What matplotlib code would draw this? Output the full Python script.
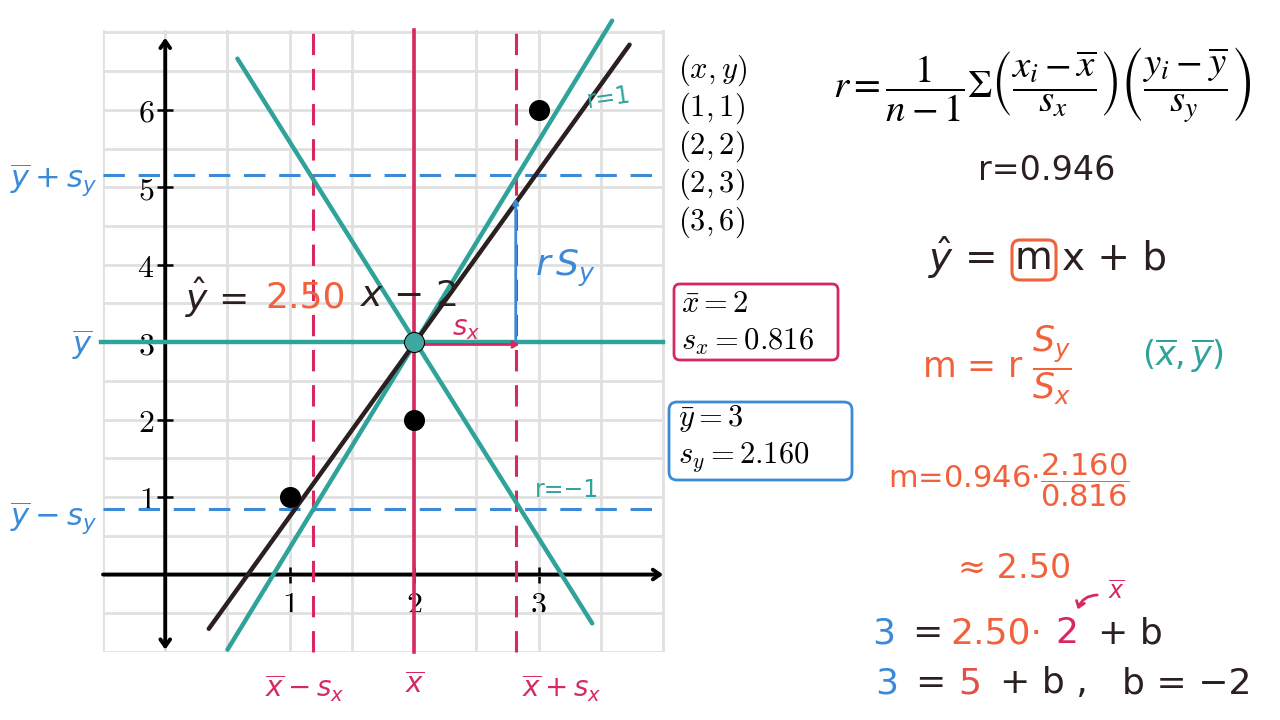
import matplotlib
matplotlib.use("Agg")
import matplotlib.pyplot as plt
from matplotlib.patches import FancyBboxPatch, FancyArrowPatch
from matplotlib.ticker import MultipleLocator, FuncFormatter

# data
pts_x = [1, 2, 2, 3]
pts_y = [1, 2, 3, 6]
x_mean, y_mean = 2, 3
s_x, s_y = 0.816, 2.160
r_val = 0.946
slope, intercept = 2.50, -2

# hand drawn lines, end points
r_pos_x = [0.50, 3.59]
r_pos_y = [-0.97, 7.15]
r_neg_x = [0.58, 3.43]
r_neg_y = [6.66, -0.63]
fit_x = [0.35, 3.73]
fit_y = [-0.70, 6.84]
rsy_top = 4.86

xticks = [1, 2, 3]
yticks = [1, 2, 3, 4, 5, 6]
table_rows = ['(x, y)', '(1, 1)', '(2, 2)', '(2, 3)', '(3, 6)']

TEAL = '#2fa39b'
PINK = '#d62a5e'
BLUE = '#3a8ad8'
ORANGE = '#f2613b'
DARK = '#2b1f1f'
GRID = '#e0e0e0'

plt.rcParams['mathtext.fontset'] = 'cm'

fig = plt.figure(figsize=(12.8, 7.2), dpi=100)
fig.patch.set_facecolor('white')
ax = fig.add_axes([103 / 1280, 68 / 720, 562 / 1280, 622 / 720])
ax.set_xlim(-0.5, 4.015)
ax.set_ylim(-1.0, 7.03)
for sp in ax.spines.values():
    sp.set_visible(False)

ax.xaxis.set_minor_locator(MultipleLocator(0.5))
ax.yaxis.set_minor_locator(MultipleLocator(0.5))
ax.grid(True, which='both', color=GRID, lw=2, zorder=0)
ax.set_axisbelow(True)
ax.spines['left'].set_position(('data', 0))
ax.spines['bottom'].set_position(('data', 0))
ax.set_xticks(xticks)
ax.set_yticks(yticks)
ax.xaxis.set_major_formatter(FuncFormatter(lambda v, p: f'${v:g}$'))
ax.yaxis.set_major_formatter(FuncFormatter(lambda v, p: f'${v:g}$'))
ax.tick_params(which='major', direction='inout', length=12, width=1.8,
               labelsize=23, color='black')
ax.tick_params(axis='x', pad=5)
ax.tick_params(axis='y', pad=2)
ax.tick_params(which='minor', length=0)

# axes with arrows
ax.annotate('', xy=(0, 6.93), xytext=(0, -0.97),
            arrowprops=dict(arrowstyle='<->,head_length=0.5,head_width=0.35',
                            lw=2.8, color='black', shrinkA=0, shrinkB=0),
            annotation_clip=False)
ax.annotate('', xy=(4.0, 0), xytext=(-0.5, 0),
            arrowprops=dict(arrowstyle='->,head_length=0.5,head_width=0.35',
                            lw=2.8, color='black', shrinkA=0, shrinkB=0),
            annotation_clip=False)

# mean and +/- sd guide lines
ax.plot([x_mean, x_mean], [-1.0, 7.03], color=PINK, lw=2.6, zorder=3, clip_on=False)
for xv in [x_mean - s_x, x_mean + s_x]:
    ax.plot([xv, xv], [-1.0, 7.08], color=PINK, lw=2.2, dashes=(7, 4.5),
            zorder=3, clip_on=False)
for yv in [y_mean - s_y, y_mean + s_y]:
    ax.plot([-0.5, 4.015], [yv, yv], color=BLUE, lw=2.2, dashes=(7, 4.5),
            zorder=3, clip_on=False)

# r = 1, r = -1, r = 0 lines
ax.plot(r_pos_x, r_pos_y, color=TEAL, lw=3.2, zorder=4, clip_on=False,
        solid_capstyle='round')
ax.plot(r_neg_x, r_neg_y, color=TEAL, lw=3.2, zorder=4, clip_on=False,
        solid_capstyle='round')
ax.plot([-0.52, 4.0], [y_mean, y_mean], color=TEAL, lw=3.2, zorder=4, clip_on=False)

# regression line
ax.plot(fit_x, fit_y, color=DARK, lw=3.2, zorder=5, solid_capstyle='round',
        clip_on=False)

# r*s_y and s_x arrows
ax.annotate('', xy=(x_mean + s_x, rsy_top), xytext=(x_mean + s_x, y_mean),
            arrowprops=dict(arrowstyle='->,head_length=0.3,head_width=0.15',
                            lw=2, color=BLUE, shrinkA=0, shrinkB=0), zorder=6)
ax.annotate('', xy=(x_mean + s_x + 0.03, y_mean - 0.03), xytext=(x_mean, y_mean - 0.03),
            arrowprops=dict(arrowstyle='->,head_length=0.35,head_width=0.2',
                            lw=2, color=PINK, shrinkA=0, shrinkB=0), zorder=6)

# data points
ax.scatter(pts_x, pts_y, s=200, color='black', zorder=7)
ax.scatter([x_mean], [y_mean], s=160, color='#3fa6a0', zorder=8)

# overlay in pixel coords for the notes
ov = fig.add_axes([0, 0, 1, 1], facecolor='none')
ov.set_xlim(0, 1280)
ov.set_ylim(720, 0)
ov.axis('off')

HW = 'dejavusans'


def hw(x, y, s, color, size=24, ha='left', va='center', rot=0):
    ov.text(x, y, s, color=color, fontsize=size, ha=ha, va=va, rotation=rot,
            math_fontfamily=HW, family='DejaVu Sans')


def cm(x, y, s, size=22, color='black', ha='left', va='center', mf='cm'):
    ov.text(x, y, s, color=color, fontsize=size, ha=ha, va=va,
            math_fontfamily=mf)


# left labels
hw(10, 180, r'$\overline{y}+s_y$', BLUE, 22)
hw(72, 345, r'$\overline{y}$', BLUE, 22)
hw(10, 518, r'$\overline{y}-s_y$', BLUE, 22)

# bottom labels
hw(305, 688, r'$\overline{x}-s_x$', PINK, 20, ha='center')
hw(415, 685, r'$\overline{x}$', PINK, 20, ha='center')
hw(562, 688, r'$\overline{x}+s_x$', PINK, 20, ha='center')

# labels inside the grid
hw(185, 298, r'$\hat{y}$ =', DARK, 26)
hw(265, 298, '2.50', ORANGE, 26)
hw(360, 296, r'$x$ − 2', DARK, 26)
hw(535, 268, r'$r\,S_y$', BLUE, 26)
hw(452, 328, r'$s_x$', PINK, 20)
hw(585, 98, 'r=1', TEAL, 17, rot=8)
hw(535, 490, 'r=−1', TEAL, 17)

# (x, y) table
for i, row in enumerate(table_rows):
    cm(678, 70 + i * 38, '$' + row + '$', 22)

# summary boxes
ov.add_patch(FancyBboxPatch((674, 284), 164, 76, boxstyle='round,pad=0,rounding_size=6',
                            fill=False, ec=PINK, lw=2))
cm(681, 303, r'$\bar{x} = 2$', 22)
cm(681, 342, r'$s_x = 0.816$', 22)
ov.add_patch(FancyBboxPatch((669, 402), 183, 78, boxstyle='round,pad=0,rounding_size=8',
                            fill=False, ec=BLUE, lw=2))
cm(678, 419, r'$\bar{y} = 3$', 22)
cm(678, 457, r'$s_y = 2.160$', 22)

# correlation formula
cm(833, 85, r'$r = \dfrac{1}{n-1}\Sigma\left(\dfrac{x_i - \overline{x}}{s_x}\right)'
            r'\left(\dfrac{y_i - \overline{y}}{s_y}\right)$', 28, mf='stix')

hw(978, 170, f'r={r_val:g}', DARK, 24)

# slope-intercept work
hw(928, 258, r'$\hat{y}$ =', DARK, 28)
hw(1015, 258, 'm', DARK, 28)
ov.add_patch(FancyBboxPatch((1012, 240), 44, 40, boxstyle='round,pad=0,rounding_size=8',
                            fill=False, ec=ORANGE, lw=2.2))
hw(1062, 258, 'x + b', DARK, 28)

hw(922, 365, r'm = r $\dfrac{S_y}{S_x}$', ORANGE, 25)
hw(1142, 355, r'$(\overline{x},\overline{y})$', TEAL, 24)
hw(888, 480, f'm={r_val:g}' + r'$\cdot\dfrac{%.3f}{%.3f}$' % (s_y, s_x), ORANGE, 22)
hw(958, 568, f'≈ {slope:.2f}', ORANGE, 24)

hw(1108, 592, r'$\overline{x}$', PINK, 17)
ov.add_patch(FancyArrowPatch((1100, 595), (1077, 612), connectionstyle='arc3,rad=0.4',
                             arrowstyle='->,head_length=4,head_width=3', color=PINK, lw=2))

hw(872, 633, f'{y_mean}', BLUE, 26)
hw(912, 633, '=', DARK, 26)
hw(950, 633, f'{slope:.2f}·', ORANGE, 26)
hw(1055, 633, f'{x_mean}', PINK, 26)
hw(1098, 633, '+ b', DARK, 26)

hw(875, 683, f'{y_mean}', BLUE, 26)
hw(915, 683, '=', DARK, 26)
hw(958, 683, f'{slope * x_mean:g}', '#e2504a', 26)
hw(1000, 683, '+ b ,', DARK, 26)
hw(1122, 683, f'b = −{abs(intercept):g}', DARK, 26)

fig.savefig('out.png', dpi=100)
